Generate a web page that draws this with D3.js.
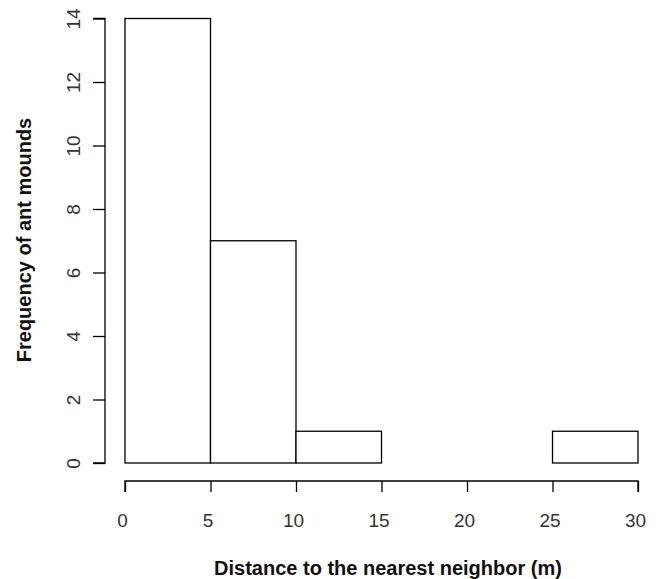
<!DOCTYPE html>
<html>
<head>
<meta charset="utf-8">
<script src="https://cdn.jsdelivr.net/npm/d3@7"></script>
<style>
  body { margin: 0; background: #fff; }
  text { font-family: "Liberation Sans", Arial, sans-serif; }
</style>
</head>
<body>
<svg id="chart" width="658" height="579"></svg>
<script>
// histogram bins (distance, m) and counts
var binStarts = [0, 5, 10, 15, 20, 25];
var binWidth = 5;
var counts = [14, 7, 1, 0, 0, 1];
var xTicks = [0, 5, 10, 15, 20, 25, 30];
var yTicks = [0, 2, 4, 6, 8, 10, 12, 14];

var svg = d3.select('#chart');

var xScale = d3.scaleLinear().domain([0, 30]).range([125, 638]);
var yScale = d3.scaleLinear().domain([0, 14]).range([463, 18.5]);

// bars
svg.append('g')
    .selectAll('rect')
    .data(binStarts)
    .join('rect')
    .attr('x', d => xScale(d))
    .attr('width', d => xScale(d + binWidth) - xScale(d))
    .attr('y', (d, i) => yScale(counts[i]))
    .attr('height', (d, i) => yScale(0) - yScale(counts[i]))
    .attr('fill', 'white')
    .attr('stroke', 'black')
    .attr('stroke-width', 1.3);

// x axis
var xAxis = d3.axisBottom(xScale).tickValues(xTicks).tickSize(11).tickFormat(d3.format('d'));
var gx = svg.append('g').attr('transform', 'translate(0,481)').call(xAxis);
gx.select('.domain').attr('d', `M${xScale(0)},11V0H${xScale(30)}V11`).attr('stroke-width', 1.3);
gx.selectAll('.tick line').attr('stroke-width', 1.3);
gx.selectAll('.tick text')
    .attr('y', 46).attr('dy', null).attr('x', -3)
    .attr('font-size', 19).attr('fill', '#333')
    .style('font-family', '"Liberation Sans", Arial, sans-serif');

// y axis
var yAxis = d3.axisLeft(yScale).tickValues(yTicks).tickSize(12).tickFormat(d3.format('d'));
var gy = svg.append('g').attr('transform', 'translate(105,0)').call(yAxis);
gy.select('.domain').attr('d', `M-12,${yScale(0)}H0V${yScale(14)}H-12`).attr('stroke-width', 1.3);
gy.selectAll('.tick line').attr('stroke-width', 1.3);
gy.selectAll('.tick text')
    .attr('x', null).attr('dy', null)
    .attr('text-anchor', 'middle')
    .attr('transform', 'translate(-32,0) rotate(-90)')
    .attr('dy', '0.35em')
    .attr('font-size', 19).attr('fill', '#333')
    .style('font-family', '"Liberation Sans", Arial, sans-serif');

// titles
svg.append('text')
    .attr('x', 388)
    .attr('y', 575)
    .attr('text-anchor', 'middle')
    .attr('font-size', 20)
    .attr('font-weight', 'bold')
    .attr('fill', '#111')
    .text('Distance to the nearest neighbor (m)');

svg.append('text')
    .attr('transform', 'translate(31,240) rotate(-90)')
    .attr('text-anchor', 'middle')
    .attr('font-size', 20)
    .attr('font-weight', 'bold')
    .attr('fill', '#111')
    .text('Frequency of ant mounds');
</script>
</body>
</html>
